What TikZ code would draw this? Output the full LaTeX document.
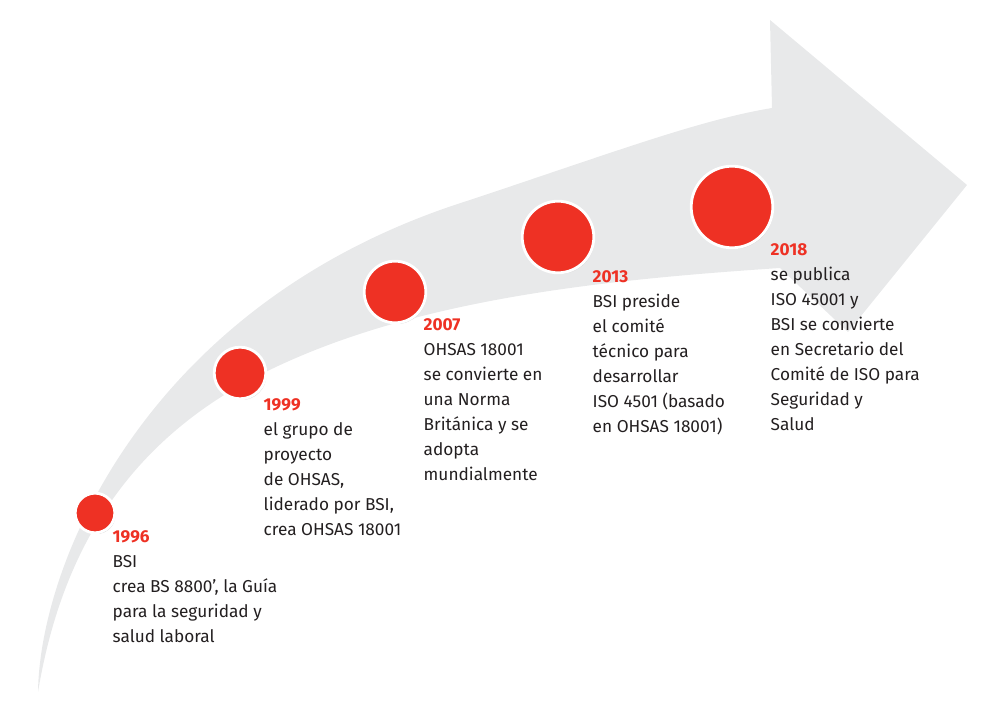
\documentclass[tikz,border=0pt]{standalone}
\usepackage{fontspec}
\setmainfont{Fira Sans}
\definecolor{arrowgray}{HTML}{E8E9EA}
\definecolor{dotred}{HTML}{EE3124}
\definecolor{txtgray}{HTML}{231F20}
\begin{document}
\begin{tikzpicture}[
    x=0.01cm, y=-0.01cm,
    milestone/.style={
        circle,
        fill=dotred,
        draw=white,
        line width=0.8pt,
        inner sep=0pt
    },
    entry/.style={
        anchor=north west,
        align=left,
        inner sep=0pt,
        text=txtgray,
        font=\fontsize{4.9}{7.1}\selectfont
    },
    year/.style={
        text=dotred,
        font=\bfseries
    }
]
    \useasboundingbox (0,0) rectangle (1000,707);

    % Curved arrow band
    \fill[arrowgray] (38,692)
        .. controls (40,560) and (150,300) .. (470,200)
        .. controls (620,150) and (700,120) .. (772,108)
        -- (770,20) -- (967,185) -- (848,332) -- (780,268)
        .. controls (600,280) and (400,300) .. (250,380)
        .. controls (120,450) and (60,560) .. (38,692) -- cycle;

    % Milestones
    \foreach \name/\cx/\cy/\r in {m96/95/513/17, m99/240/373/23, m07/395/292/28, m13/558/237/33, m18/732/207/38} {
        \fill[black!18] (\cx+1.5,\cy+2) circle (\r+2);
        \node[milestone, minimum size=2*\r*0.01cm+1.6pt] (\name) at (\cx,\cy) {};
    }

    % Texts
    \node[entry] (t96) at (112,530) {{\color{dotred}\bfseries 1996}\\BSI\\crea BS 8800', la Guía\\para la seguridad y\\salud laboral};
    \node[entry] (t99) at (263,398) {{\color{dotred}\bfseries 1999}\\el grupo de\\proyecto\\de OHSAS,\\liderado por BSI,\\crea OHSAS 18001};
    \node[entry] (t07) at (423,318) {{\color{dotred}\bfseries 2007}\\OHSAS 18001\\se convierte en\\una Norma\\Británica y se\\adopta\\mundialmente};
    \node[entry] (t13) at (592,270) {{\color{dotred}\bfseries 2013}\\BSI preside\\el comité\\técnico para\\desarrollar\\ISO 4501 (basado\\en OHSAS 18001)};
    \node[entry] (t18) at (770,243) {{\color{dotred}\bfseries 2018}\\se publica\\ISO 45001 y\\BSI se convierte\\en Secretario del\\Comité de ISO para\\Seguridad y\\Salud};
\end{tikzpicture}
\end{document}
